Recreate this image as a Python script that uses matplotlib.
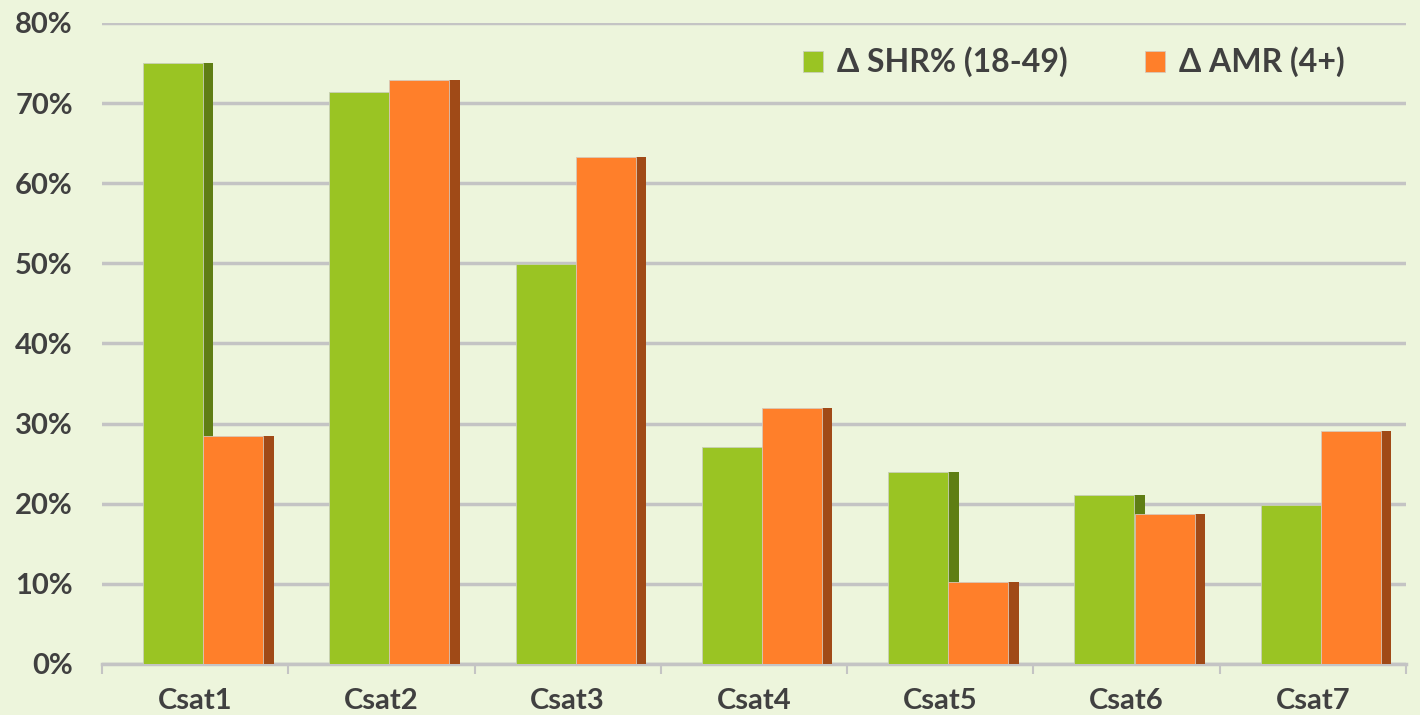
import numpy as np
import matplotlib
matplotlib.use("Agg")
import matplotlib.pyplot as plt
from matplotlib.ticker import FixedLocator, PercentFormatter

# data
cats = ["Csat1", "Csat2", "Csat3", "Csat4", "Csat5", "Csat6", "Csat7"]
shr = [75.0, 71.4, 49.9, 27.1, 24.0, 21.1, 19.9]
amr = [28.5, 72.9, 63.3, 32.0, 10.2, 18.7, 29.1]
labels = ["Δ SHR% (18-49)", "Δ AMR (4+)"]

bg = "#EDF5DC"
green = "#9AC423"
green_side = "#5F7E14"
orange = "#FF7F2A"
orange_side = "#A04A17"
txt = "#404040"

plt.rcParams['font.family'] = ['Lato', 'DejaVu Sans']

fig = plt.figure(figsize=(14.2, 7.15), dpi=100, facecolor=bg)
ax = fig.add_axes([102/1420, 1-664/715, (1406-102)/1420, (664-23)/715])
ax.set_facecolor(bg)

x = np.arange(len(cats))
bw = 0.322
sw = 0.056
# side faces first (so orange front covers the green side)
ax.bar(x - 0.28 + bw, shr, width=sw, align='edge', color=green_side, zorder=2)
ax.bar(x - 0.28, shr, width=bw, align='edge', color=green,
       edgecolor="#C8CFB8", linewidth=0.6, zorder=3, label=labels[0])
ax.bar(x + 0.043 + bw, amr, width=sw, align='edge', color=orange_side, zorder=4)
ax.bar(x + 0.043, amr, width=bw, align='edge', color=orange,
       edgecolor="#D8C8B8", linewidth=0.6, zorder=5, label=labels[1])

ax.set_xlim(-0.5, len(cats) - 0.5)
ax.set_ylim(0, 80)
ax.set_yticks(np.arange(0, 81, 10))
ax.yaxis.set_major_formatter(PercentFormatter(decimals=0))
ax.grid(axis='y', color="#C4C4C4", linewidth=2.5, zorder=0)
ax.set_axisbelow(True)

for s in ["top", "right", "left"]:
    ax.spines[s].set_visible(False)
ax.spines["bottom"].set_color("#C4C4C4")
ax.spines["bottom"].set_linewidth(2.5)
ax.spines["bottom"].set_zorder(1)

ax.set_xticks(x)
ax.set_xticklabels(cats)
ax.xaxis.set_minor_locator(FixedLocator(np.arange(-0.5, len(cats), 1)))
ax.tick_params(axis='x', which='major', length=0, pad=17,
               labelsize=21, labelcolor=txt)
ax.tick_params(axis='x', which='minor', length=7, width=1.5,
               color="#C4C4C4", direction='out')
ax.tick_params(axis='y', length=0, pad=21, labelsize=21, labelcolor=txt)
for t in ax.get_xticklabels() + ax.get_yticklabels():
    t.set_fontweight('bold')

leg = ax.legend(loc='center right', bbox_to_anchor=(0.975, 0.939), ncol=2,
                frameon=False, handlelength=0.63, handleheight=0.63,
                handletextpad=0.45, columnspacing=2.4,
                prop={'weight': 'bold', 'size': 23})
for t in leg.get_texts():
    t.set_color(txt)

fig.savefig("out.png", dpi=100, facecolor=bg)
